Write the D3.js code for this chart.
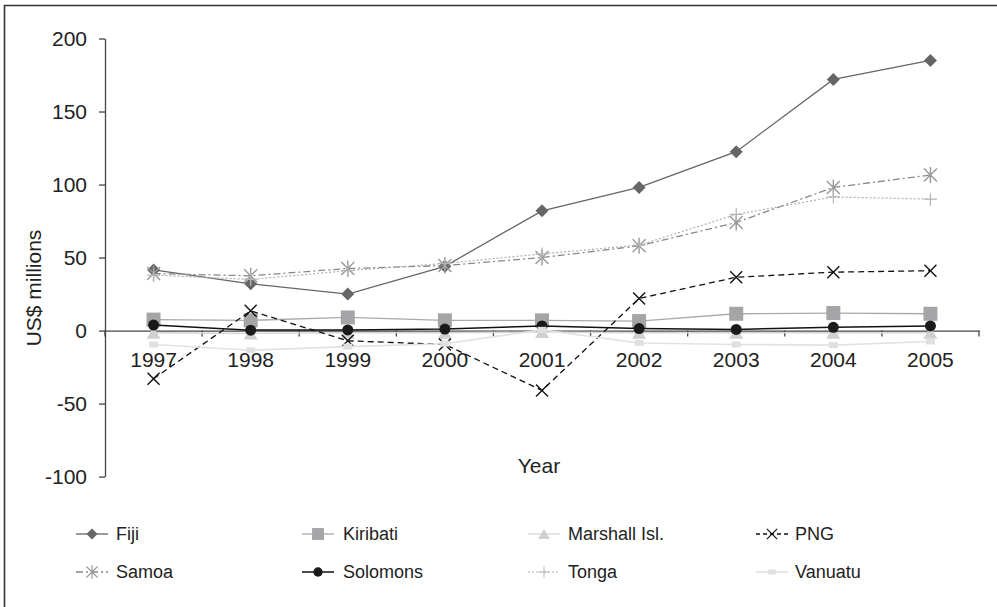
<!DOCTYPE html>
<html>
<head>
<meta charset="utf-8">
<script src="https://cdn.jsdelivr.net/npm/d3@7"></script>
<style>
  body { margin: 0; background: #fff; }
  text { font-family: "Liberation Sans", Arial, sans-serif; fill: #222; }
</style>
</head>
<body>
<svg id="viz"></svg>
<script>
const width = 997, height = 607;

const years = ["1997", "1998", "1999", "2000", "2001", "2002", "2003", "2004", "2005"];
const yTicks = [-100, -50, 0, 50, 100, 150, 200];

const fiji      = [41.5, 32, 25, 44, 82, 98, 122.5, 172, 185];
const kiribati  = [7.5, 7, 9, 7, 7, 6.5, 11.5, 12, 11.5];
const marshall  = [-1.5, -2, -1.5, -1.5, -1, -1.5, -1.5, -1.5, -1.5];
const png       = [-33, 13.5, -7, -9.5, -41, 22, 36.5, 40, 41];
const samoa     = [39, 37.5, 42.5, 44.5, 50, 58, 74, 98, 106.5];
const solomons  = [3.8, 0.3, 0.4, 1, 3.2, 1.4, 0.8, 2.2, 3.2];
const tonga     = [38, 35, 41, 46, 52.5, 58.5, 79.5, 91.5, 90];
const vanuatu   = [-9.5, -13.5, -11, -9, 0.5, -8.5, -9.5, -10, -7.5];

const series = [
  {name: "Fiji", values: fiji, color: "#666", dash: null, w: 1.3, marker: "diamond", mcolor: "#666"},
  {name: "Kiribati", values: kiribati, color: "#aaa", dash: null, w: 1.3, marker: "square", mcolor: "#a5a5a7"},
  {name: "Marshall Isl.", values: marshall, color: "#d6d6d6", dash: null, w: 1.3, marker: "triangle", mcolor: "#d0d0d0"},
  {name: "PNG", values: png, color: "#111", dash: "6,4", w: 1.3, marker: "x", mcolor: "#111"},
  {name: "Samoa", values: samoa, color: "#888", dash: "7,3,2,3", w: 1.3, marker: "asterisk", mcolor: "#999"},
  {name: "Solomons", values: solomons, color: "#111", dash: null, w: 1.5, marker: "circle", mcolor: "#1a1a1a"},
  {name: "Tonga", values: tonga, color: "#b0b0b0", dash: "2,2", w: 1.2, marker: "plus", mcolor: "#b5b5b5"},
  {name: "Vanuatu", values: vanuatu, color: "#e2e2e2", dash: null, w: 1.6, marker: "bar", mcolor: "#e0e0e0"}
];

const svg = d3.select("#viz").attr("width", width).attr("height", height);

// frame (only top and left edges are visible)
svg.append("path")
  .attr("d", "M4.5,607V5.5H997")
  .attr("fill", "none")
  .attr("stroke", "#333")
  .attr("stroke-width", 1.6);

const x = d3.scaleBand().domain(years).range([105, 979]);
const y = d3.scaleLinear().domain([-100, 200]).range([476.6, 38.5]);

// y axis
const yAxis = svg.append("g")
  .attr("transform", "translate(105,0)")
  .call(d3.axisLeft(y).tickValues(yTicks).tickFormat(d => String(d))
    .tickSize(6).tickPadding(12).tickSizeOuter(0));
yAxis.select(".domain").attr("stroke", "#444").attr("stroke-width", 1.3);
yAxis.selectAll(".tick line").attr("stroke", "#444").attr("stroke-width", 1.3);
yAxis.selectAll("text").style("font-size", "21px").attr("fill", "#222")
  .style("font-family", "'Liberation Sans', Arial, sans-serif");

// x axis along zero
const xAxis = svg.append("g")
  .attr("transform", `translate(0,${y(0)})`)
  .call(d3.axisBottom(x).tickSize(0).tickPadding(22).tickSizeOuter(0));
xAxis.select(".domain").attr("stroke", "#444").attr("stroke-width", 1.3);
xAxis.selectAll("text").style("font-size", "21px").attr("fill", "#222")
  .style("font-family", "'Liberation Sans', Arial, sans-serif");
// ticks between categories
const bounds = years.map(d => x(d)).concat([x(years[years.length - 1]) + x.bandwidth()]);
xAxis.selectAll("line.sep")
  .data(bounds)
  .enter().append("line")
  .attr("class", "sep")
  .attr("x1", d => d).attr("x2", d => d)
  .attr("y1", 0).attr("y2", 6)
  .attr("stroke", "#444").attr("stroke-width", 1.3);

// axis titles
svg.append("text")
  .attr("transform", "translate(41,288) rotate(-90)")
  .attr("text-anchor", "middle")
  .style("font-size", "21px")
  .text("US$ millions");

svg.append("text")
  .attr("x", 539).attr("y", 473)
  .attr("text-anchor", "middle")
  .style("font-size", "21px")
  .text("Year");

// marker drawing
function drawMarker(g, type, color) {
  if (type === "diamond") {
    g.append("path").attr("d", "M0,-6.5L6.5,0L0,6.5L-6.5,0Z").attr("fill", color);
  } else if (type === "square") {
    g.append("rect").attr("x", -7).attr("y", -7).attr("width", 14).attr("height", 14).attr("fill", color);
  } else if (type === "triangle") {
    g.append("path").attr("d", "M0,-6L7,6H-7Z").attr("fill", color);
  } else if (type === "x") {
    g.append("path").attr("d", "M-6,-6L6,6M-6,6L6,-6").attr("stroke", color).attr("stroke-width", 1.4).attr("fill", "none");
  } else if (type === "asterisk") {
    g.append("path").attr("d", "M-6.5,-6.5L6.5,6.5M-6.5,6.5L6.5,-6.5M0,-8V8").attr("stroke", color).attr("stroke-width", 1.4).attr("fill", "none");
  } else if (type === "circle") {
    g.append("circle").attr("r", 5.5).attr("fill", color);
  } else if (type === "plus") {
    g.append("path").attr("d", "M-6.5,0H6.5M0,-6.5V6.5").attr("stroke", color).attr("stroke-width", 1.2).attr("fill", "none");
  } else if (type === "bar") {
    g.append("rect").attr("x", -4.5).attr("y", -3).attr("width", 9).attr("height", 6).attr("fill", color);
  }
}

const cx = d => x(d) + x.bandwidth() / 2;
const line = d3.line().x(d => cx(d.year)).y(d => y(d.v));

const plot = svg.append("g");
series.forEach(s => {
  const pts = years.map((yr, i) => ({year: yr, v: s.values[i]}));
  const g = plot.append("g");
  g.append("path")
    .datum(pts)
    .attr("d", line)
    .attr("fill", "none")
    .attr("stroke", s.color)
    .attr("stroke-width", s.w)
    .attr("stroke-dasharray", s.dash);
  g.selectAll("g.m")
    .data(pts)
    .enter().append("g")
    .attr("class", "m")
    .attr("transform", d => `translate(${cx(d.year)},${y(d.v)})`)
    .each(function() { drawMarker(d3.select(this), s.marker, s.mcolor); });
});

// legend
const legendCols = [76, 302, 528, 756];
const legendRows = [534, 572];
const legend = svg.append("g");
series.forEach((s, i) => {
  const lx = legendCols[i % 4], ly = legendRows[Math.floor(i / 4)];
  const g = legend.append("g").attr("transform", `translate(${lx},${ly})`);
  g.append("line")
    .attr("x1", 0).attr("x2", 32).attr("y1", 0).attr("y2", 0)
    .attr("stroke", s.color)
    .attr("stroke-width", s.w)
    .attr("stroke-dasharray", s.dash === "6,4" ? "4,3" : s.dash);
  const m = g.append("g").attr("transform", "translate(16,0) scale(0.85)");
  drawMarker(m, s.marker, s.mcolor);
  g.append("text")
    .attr("x", s.name === "PNG" || s.name === "Vanuatu" ? 39 : (s.name === "Kiribati" || s.name === "Solomons" ? 41 : 40))
    .attr("y", 0)
    .attr("dy", "0.36em")
    .style("font-size", "18px")
    .text(s.name);
});
</script>
</body>
</html>
